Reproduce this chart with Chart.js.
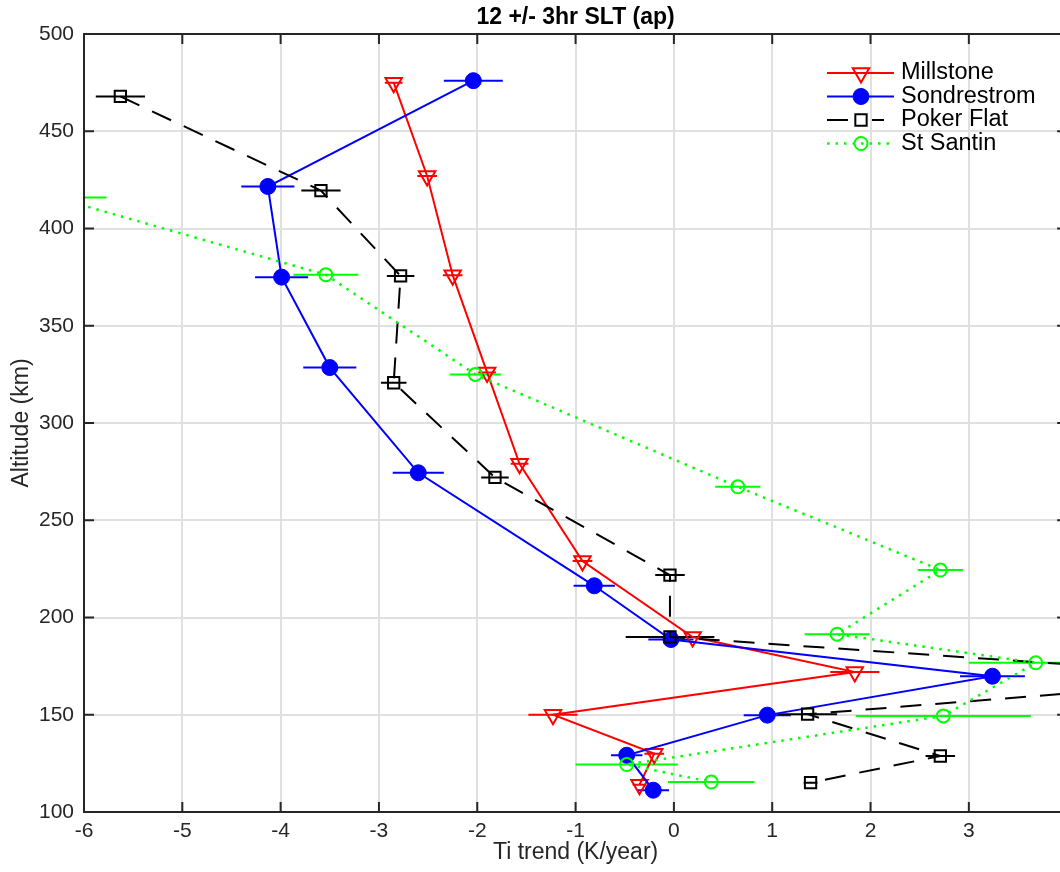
<!DOCTYPE html>
<html>
<head>
<meta charset="utf-8">
<title>12 +/- 3hr SLT (ap)</title>
<script src="https://cdn.jsdelivr.net/npm/chart.js@4/dist/chart.umd.min.js"></script>
<style>
  html, body { margin: 0; padding: 0; width: 1060px; height: 872px; overflow: hidden; background: #ffffff; }
  #wrap { position: absolute; left: 0; top: 0; width: 1080px; height: 872px; }
</style>
</head>
<body>
<div id="wrap"><canvas id="c" width="1080" height="872"></canvas></div>
<script>
// ---- Data ----
const chartTitle = '12 +/- 3hr SLT (ap)';
const xAxisTitle = 'Ti trend (K/year)';
const yAxisTitle = 'Altitude (km)';
const seriesNames = ['Millstone', 'Sondrestrom', 'Poker Flat', 'St Santin'];

const xTickMin = -6, xTickMax = 4, xTickStep = 1;
const yTickMin = 100, yTickMax = 500, yTickStep = 50;

const millstoneAlt   = [475, 427, 376, 326, 279, 229, 190, 172, 150, 130, 114];
const millstoneTrend = [-2.85, -2.51, -2.25, -1.90, -1.57, -0.93, 0.19, 1.84, -1.23, -0.20, -0.35];
const millstoneErr   = [0.09, 0.10, 0.10, 0.09, 0.09, 0.10, 0.22, 0.25, 0.25, 0.10, 0.07];

const sondAlt   = [476, 421.6, 375, 328.5, 274.4, 216.3, 188.7, 169.8, 149.8, 129.2, 111.2];
const sondTrend = [-2.04, -4.13, -3.99, -3.50, -2.60, -0.81, -0.03, 3.24, 0.95, -0.48, -0.21];
const sondErr   = [0.30, 0.27, 0.27, 0.27, 0.26, 0.21, 0.23, 0.33, 0.24, 0.16, 0.16];

const pokerAlt   = [467.9, 419.5, 375.6, 320.7, 272, 221.8, 190, 169, 150.3, 128.8, 115.1];
const pokerTrend = [-5.63, -3.59, -2.78, -2.85, -1.82, -0.04, -0.04, 6.0, 1.36, 2.71, 1.39];
const pokerErr   = [0.25, 0.20, 0.14, 0.13, 0.14, 0.15, 0.45, 0.30, 0.30, 0.15, 0.07];

const santinAlt   = [415.9, 376.2, 325, 267.2, 224.4, 191.4, 176.7, 149.4, 124.4, 115.4];
const santinTrend = [-6.29, -3.54, -2.02, 0.65, 2.71, 1.66, 3.68, 2.74, -0.48, 0.38];
const santinErr   = [0.52, 0.33, 0.26, 0.23, 0.23, 0.33, 0.68, 0.89, 0.52, 0.44];

// ---- helpers ----
const toPts = (xs, ys) => xs.map((x, i) => ({ x: x, y: ys[i] }));
const AXIS_COLOR = '#262626';
const FONT = "'Liberation Sans', Arial, Helvetica, sans-serif";

const datasets = [
  {
    label: seriesNames[0], data: toPts(millstoneTrend, millstoneAlt), errors: millstoneErr,
    borderColor: '#ff0000', backgroundColor: 'rgba(0,0,0,0)', borderWidth: 2,
    pointStyle: 'triangle', rotation: 180, pointRadius: 9.5, pointBorderWidth: 2,
    pointBackgroundColor: 'rgba(0,0,0,0)', pointBorderColor: '#ff0000', order: 3
  },
  {
    label: seriesNames[1], data: toPts(sondTrend, sondAlt), errors: sondErr,
    borderColor: '#0000ff', backgroundColor: '#0000ff', borderWidth: 2,
    pointStyle: 'circle', pointRadius: 8, pointBorderWidth: 1,
    pointBackgroundColor: '#0000ff', pointBorderColor: '#0000ff', order: 2
  },
  {
    label: seriesNames[2], data: toPts(pokerTrend, pokerAlt), errors: pokerErr,
    borderColor: '#000000', backgroundColor: 'rgba(0,0,0,0)', borderWidth: 2, borderDash: [21, 14],
    pointStyle: 'rect', pointRadius: 8, pointBorderWidth: 2,
    pointBackgroundColor: 'rgba(0,0,0,0)', pointBorderColor: '#000000', order: 1
  },
  {
    label: seriesNames[3], data: toPts(santinTrend, santinAlt), errors: santinErr,
    borderColor: '#00ff00', backgroundColor: 'rgba(0,0,0,0)', borderWidth: 2.5, borderDash: [2.5, 6],
    pointStyle: 'circle', pointRadius: 6.5, pointBorderWidth: 2,
    pointBackgroundColor: 'rgba(0,0,0,0)', pointBorderColor: '#00ff00', order: 0
  }
];

// draw a marker like Chart.js does (for the legend)
function drawMarker(ctx, ds, x, y) {
  const r = ds.pointRadius;
  ctx.save();
  ctx.setLineDash([]);
  ctx.lineWidth = ds.pointBorderWidth;
  ctx.strokeStyle = ds.pointBorderColor;
  ctx.fillStyle = ds.pointBackgroundColor;
  ctx.beginPath();
  if (ds.pointStyle === 'circle') {
    ctx.arc(x, y, r, 0, Math.PI * 2);
  } else if (ds.pointStyle === 'rect') {
    const s = Math.SQRT1_2 * r;
    ctx.rect(x - s, y - s, 2 * s, 2 * s);
  } else if (ds.pointStyle === 'triangle') {
    let rad = (ds.rotation || 0) * Math.PI / 180;
    ctx.moveTo(x + Math.sin(rad) * r, y - Math.cos(rad) * r);
    rad += 2 * Math.PI / 3;
    ctx.lineTo(x + Math.sin(rad) * r, y - Math.cos(rad) * r);
    rad += 2 * Math.PI / 3;
    ctx.lineTo(x + Math.sin(rad) * r, y - Math.cos(rad) * r);
    ctx.closePath();
  }
  ctx.fill();
  ctx.stroke();
  ctx.restore();
}

// horizontal error bars via the chart's scales
const errorBarPlugin = {
  id: 'errorBars',
  beforeDatasetsDraw(chart) {
    const ctx = chart.ctx, xs = chart.scales.x, ys = chart.scales.y, a = chart.chartArea;
    ctx.save();
    ctx.beginPath();
    ctx.rect(a.left, a.top, a.right - a.left, a.bottom - a.top);
    ctx.clip();
    chart.data.datasets.forEach(ds => {
      ctx.strokeStyle = ds.borderColor;
      ctx.lineWidth = 2;
      ctx.setLineDash([]);
      ds.data.forEach((p, i) => {
        const e = ds.errors[i];
        const py = ys.getPixelForValue(p.y);
        ctx.beginPath();
        ctx.moveTo(xs.getPixelForValue(p.x - e), py);
        ctx.lineTo(xs.getPixelForValue(p.x + e), py);
        ctx.stroke();
      });
    });
    ctx.restore();
  }
};

// box, inward ticks, title, legend
const decorPlugin = {
  id: 'decor',
  afterDraw(chart) {
    const ctx = chart.ctx, a = chart.chartArea, xs = chart.scales.x, ys = chart.scales.y;
    ctx.save();
    ctx.strokeStyle = AXIS_COLOR;
    ctx.lineWidth = 2;
    ctx.setLineDash([]);
    ctx.beginPath();
    ctx.rect(a.left, a.top, a.right - a.left, a.bottom - a.top);
    ctx.stroke();
    const tl = 10;
    ctx.beginPath();
    xs.ticks.forEach(t => {
      const px = xs.getPixelForValue(t.value);
      ctx.moveTo(px, a.bottom); ctx.lineTo(px, a.bottom - tl);
      ctx.moveTo(px, a.top); ctx.lineTo(px, a.top + tl);
    });
    ys.ticks.forEach(t => {
      const py = ys.getPixelForValue(t.value);
      ctx.moveTo(a.left, py); ctx.lineTo(a.left + tl, py);
      ctx.moveTo(a.right, py); ctx.lineTo(a.right - tl, py);
    });
    ctx.stroke();

    // title
    ctx.fillStyle = '#000000';
    ctx.font = 'bold 23px ' + FONT;
    ctx.textAlign = 'center';
    ctx.textBaseline = 'middle';
    ctx.fillText(chartTitle, (a.left + a.right) / 2, 18);

    // legend
    const lx0 = 827, lx1 = 894, mx = 861, tx = 901;
    const rowY = [73, 96.5, 120, 143.5];
    ctx.font = '23.5px ' + FONT;
    ctx.textAlign = 'left';
    ctx.textBaseline = 'middle';
    chart.data.datasets.forEach((ds, i) => {
      const y = rowY[i];
      ctx.save();
      ctx.strokeStyle = ds.borderColor;
      ctx.lineWidth = ds.borderWidth;
      ctx.setLineDash(ds.borderDash || []);
      ctx.beginPath();
      if (ds.borderDash && ds.borderDash[0] > 10) {
        ctx.setLineDash([]);
        ctx.moveTo(lx0, y); ctx.lineTo(lx0 + 21, y);
        ctx.moveTo(mx + 11, y); ctx.lineTo(mx + 23, y);
      } else {
        ctx.moveTo(lx0, y); ctx.lineTo(lx1, y);
      }
      ctx.stroke();
      ctx.restore();
      drawMarker(ctx, ds, mx, y);
      ctx.fillStyle = '#000000';
      ctx.fillText(ds.label, tx, y);
    });
    ctx.restore();
  }
};

new Chart(document.getElementById('c'), {
  type: 'scatter',
  data: { datasets: datasets.map(d => Object.assign({ showLine: true, fill: false, tension: 0 }, d)) },
  options: {
    responsive: false,
    animation: false,
    events: [],
    layout: { padding: { left: 0, right: 12, top: 34, bottom: 0 } },
    plugins: { legend: { display: false }, title: { display: false }, tooltip: { enabled: false } },
    scales: {
      x: {
        type: 'linear', min: xTickMin, max: xTickMax,
        ticks: { stepSize: xTickStep, padding: 7, color: AXIS_COLOR, font: { family: FONT, size: 21 } },
        grid: { color: 'rgb(224,224,224)', lineWidth: 2, drawTicks: false },
        border: { display: false },
        title: { display: true, text: xAxisTitle, color: AXIS_COLOR, font: { family: FONT, size: 23 }, padding: { top: 4, bottom: 6 } },
        afterFit(scale) { scale.height = 60; }
      },
      y: {
        type: 'linear', min: yTickMin, max: yTickMax,
        ticks: { stepSize: yTickStep, padding: 10, color: AXIS_COLOR, font: { family: FONT, size: 21 } },
        grid: { color: 'rgb(224,224,224)', lineWidth: 2, drawTicks: false },
        border: { display: false },
        title: { display: true, text: yAxisTitle, color: AXIS_COLOR, font: { family: FONT, size: 23 }, padding: { top: 8, bottom: 4 } },
        afterFit(scale) { scale.width = 84; }
      }
    }
  },
  plugins: [errorBarPlugin, decorPlugin]
});
</script>
</body>
</html>
